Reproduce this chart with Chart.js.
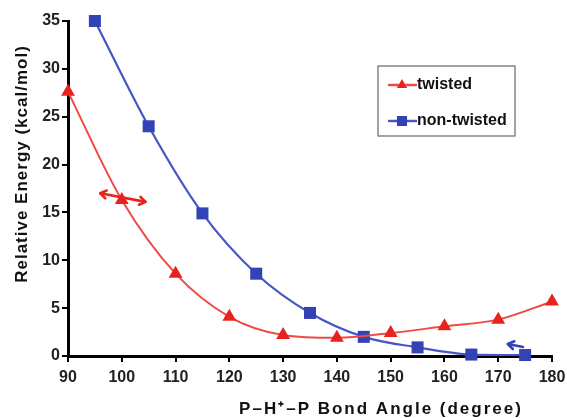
<!DOCTYPE html>
<html>
<head>
<meta charset="utf-8">
<script src="https://cdn.jsdelivr.net/npm/chart.js@4.4.1/dist/chart.umd.min.js"></script>
<style>
html,body{margin:0;padding:0;background:#fff;}
#wrap{width:567px;height:418px;position:relative;}
</style>
</head>
<body>
<div id="wrap"><canvas id="c" width="567" height="418"></canvas></div>
<script>
// ---- data ----
const twistedAngles = [90, 100, 110, 120, 130, 140, 150, 160, 170, 180];
const twistedEnergy = [27.6, 16.3, 8.6, 4.1, 2.2, 1.9, 2.4, 3.1, 3.8, 5.7];
const nonTwistedAngles = [95, 105, 115, 125, 135, 145, 155, 165, 175];
const nonTwistedEnergy = [35.0, 24.0, 14.9, 8.6, 4.5, 2.0, 0.9, 0.15, 0.1];
const seriesNames = ['twisted', 'non-twisted'];
const xTitle = 'P\u2013H\u207A\u2013P Bond Angle (degree)';
const yTitle = 'Relative Energy (kcal/mol)';

const RED = '#e8231f';
const RED_LINE = '#ef4a44';
const BLUE = '#3343b5';
const BLUE_LINE = '#4656c4';

// annotation arrows, in data units
const arrowAnnotations = [
  { from: [96.0, 17.0], to: [104.4, 16.1], both: true, color: RED },
  { from: [174.6, 0.95], to: [171.8, 1.25], both: false, color: BLUE }
];

const toXY = (xs, ys) => xs.map((x, i) => ({ x: x, y: ys[i] }));

const FONT = '"Liberation Sans", Arial, sans-serif';

function arrowHead(ctx, x1, y1, x2, y2, len) {
  const a = Math.atan2(y2 - y1, x2 - x1);
  ctx.beginPath();
  ctx.moveTo(x2 - len * Math.cos(a - 0.6), y2 - len * Math.sin(a - 0.6));
  ctx.lineTo(x2, y2);
  ctx.lineTo(x2 - len * Math.cos(a + 0.6), y2 - len * Math.sin(a + 0.6));
  ctx.stroke();
}

const decor = {
  id: 'decor',
  afterDatasetsDraw(chart) {
    const ctx = chart.ctx;
    const xs = chart.scales.x, ys = chart.scales.y;
    ctx.save();
    // arrows
    arrowAnnotations.forEach(a => {
      const x1 = xs.getPixelForValue(a.from[0]), y1 = ys.getPixelForValue(a.from[1]);
      const x2 = xs.getPixelForValue(a.to[0]), y2 = ys.getPixelForValue(a.to[1]);
      ctx.strokeStyle = a.color;
      ctx.lineWidth = 2.6;
      ctx.lineCap = 'round';
      ctx.lineJoin = 'round';
      ctx.beginPath(); ctx.moveTo(x1, y1); ctx.lineTo(x2, y2); ctx.stroke();
      arrowHead(ctx, x1, y1, x2, y2, 7);
      if (a.both) arrowHead(ctx, x2, y2, x1, y1, 7);
    });
    // legend box
    const lx = 378;
    const ly = 66;
    const lw = 137, lh = 70;
    ctx.fillStyle = '#ffffff';
    ctx.fillRect(lx, ly, lw, lh);
    ctx.strokeStyle = '#8a8480';
    ctx.lineWidth = 1.5;
    ctx.strokeRect(lx, ly, lw, lh);
    const items = [
      { label: chart.data.datasets[0].label, line: RED_LINE, fill: RED, style: 'triangle', r: 6 },
      { label: chart.data.datasets[1].label, line: BLUE_LINE, fill: BLUE, style: 'rect', r: 7 }
    ];
    items.forEach((it, i) => {
      const cy = ly + 19 + i * 36;
      ctx.strokeStyle = it.line;
      ctx.lineWidth = 2.5;
      ctx.beginPath(); ctx.moveTo(lx + 11, cy); ctx.lineTo(lx + 38, cy); ctx.stroke();
      Chart.helpers.drawPoint(ctx, { pointStyle: it.style, radius: it.r, borderWidth: 0 }, lx + 24, cy);
      ctx.fillStyle = it.fill;
      ctx.fill();
      ctx.fillStyle = '#111';
      ctx.font = 'bold 16px ' + FONT;
      ctx.textBaseline = 'middle';
      ctx.textAlign = 'left';
      ctx.fillText(it.label, lx + 39, cy);
    });
    ctx.restore();
  },
  afterDraw(chart) {
    const ctx = chart.ctx;
    ctx.save();
    ctx.fillStyle = '#111';
    ctx.textAlign = 'center';
    ctx.textBaseline = 'middle';
    ctx.font = 'bold 17px ' + FONT;
    ctx.letterSpacing = '2px';
    ctx.fillText(xTitle, 381, 409);
    ctx.letterSpacing = '1px';
    ctx.translate(22, 164);
    ctx.rotate(-Math.PI / 2);
    ctx.fillText(yTitle, 0, 0);
    ctx.restore();
  }
};

new Chart(document.getElementById('c'), {
  type: 'line',
  data: {
    datasets: [
      {
        label: seriesNames[0],
        data: toXY(twistedAngles, twistedEnergy),
        borderColor: RED_LINE,
        backgroundColor: RED,
        pointBackgroundColor: RED,
        pointBorderWidth: 0,
        pointStyle: 'triangle',
        pointRadius: 8,
        borderWidth: 2,
        cubicInterpolationMode: 'monotone',
        clip: false
      },
      {
        label: seriesNames[1],
        data: toXY(nonTwistedAngles, nonTwistedEnergy),
        borderColor: BLUE_LINE,
        backgroundColor: BLUE,
        pointBackgroundColor: BLUE,
        pointBorderWidth: 0,
        pointStyle: 'rect',
        pointRadius: 8.5,
        borderWidth: 2.2,
        cubicInterpolationMode: 'monotone',
        clip: false
      }
    ]
  },
  options: {
    responsive: false,
    animation: false,
    layout: { padding: { top: 21, right: 15, left: 0, bottom: 0 } },
    plugins: { legend: { display: false }, tooltip: { enabled: false } },
    scales: {
      x: {
        type: 'linear',
        min: 90, max: 180,
        afterFit: s => { s.height = 62; s.paddingRight = 0; s.paddingLeft = 0; },
        border: { color: '#000', width: 3 },
        grid: { display: true, drawOnChartArea: false, color: '#000', tickLength: 6, lineWidth: 2 },
        ticks: { stepSize: 10, color: '#222', padding: 6, font: { family: FONT, size: 16, weight: 'bold' } }
      },
      y: {
        min: 0, max: 35,
        afterFit: s => { s.width = 68; s.paddingTop = 0; s.paddingBottom = 0; },
        border: { color: '#000', width: 3 },
        grid: { display: true, drawOnChartArea: false, color: '#000', tickLength: 6, lineWidth: 2 },
        ticks: { stepSize: 5, color: '#222', padding: 2, font: { family: FONT, size: 16, weight: 'bold' } }
      }
    }
  },
  plugins: [decor]
});
</script>
</body>
</html>
